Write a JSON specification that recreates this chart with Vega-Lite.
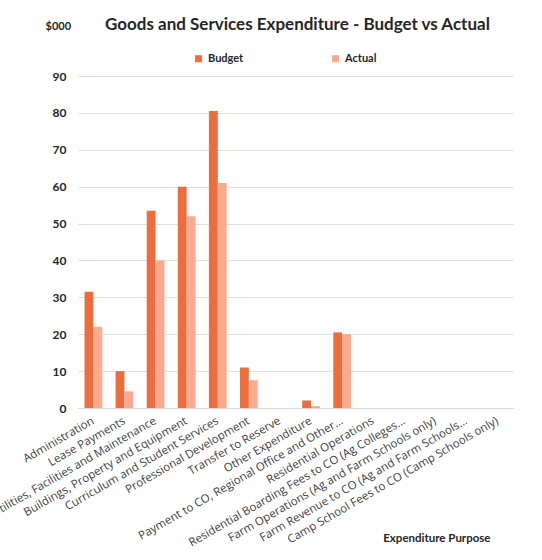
{
  "$schema": "https://vega.github.io/schema/vega-lite/v6.json",
  "autosize": {"type": "none"},
  "padding": {"left": 78, "top": 76, "right": 29, "bottom": 152},
  "width": 435,
  "height": 332,
  "background": "white",
  "title": {
    "text": "Goods and Services Expenditure - Budget vs Actual",
    "anchor": "start",
    "frame": "group",
    "dx": 27,
    "offset": 0,
    "dy": 14,
    "font": "Lato",
    "fontSize": 17,
    "fontWeight": "bold",
    "color": "#262626"
  },
  "data": {
    "values": [
      {"purpose": "Administration", "series": "Budget", "value": 31.5},
      {"purpose": "Administration", "series": "Actual", "value": 22},
      {"purpose": "Lease Payments", "series": "Budget", "value": 10},
      {"purpose": "Lease Payments", "series": "Actual", "value": 4.5},
      {"purpose": "Utilities, Facilities and Maintenance", "series": "Budget", "value": 53.5},
      {"purpose": "Utilities, Facilities and Maintenance", "series": "Actual", "value": 40},
      {"purpose": "Buildings, Property and Equipment", "series": "Budget", "value": 60},
      {"purpose": "Buildings, Property and Equipment", "series": "Actual", "value": 52},
      {"purpose": "Curriculum and Student Services", "series": "Budget", "value": 80.5},
      {"purpose": "Curriculum and Student Services", "series": "Actual", "value": 61},
      {"purpose": "Professional Development", "series": "Budget", "value": 11},
      {"purpose": "Professional Development", "series": "Actual", "value": 7.5},
      {"purpose": "Transfer to Reserve", "series": "Budget", "value": 0},
      {"purpose": "Transfer to Reserve", "series": "Actual", "value": 0},
      {"purpose": "Other Expenditure", "series": "Budget", "value": 2},
      {"purpose": "Other Expenditure", "series": "Actual", "value": 0.5},
      {"purpose": "Payment to CO, Regional Office and Other…", "series": "Budget", "value": 20.5},
      {"purpose": "Payment to CO, Regional Office and Other…", "series": "Actual", "value": 20},
      {"purpose": "Residential Operations", "series": "Budget", "value": 0},
      {"purpose": "Residential Operations", "series": "Actual", "value": 0},
      {"purpose": "Residential Boarding Fees to CO (Ag Colleges…", "series": "Budget", "value": 0},
      {"purpose": "Residential Boarding Fees to CO (Ag Colleges…", "series": "Actual", "value": 0},
      {"purpose": "Farm Operations (Ag and Farm Schools only)", "series": "Budget", "value": 0},
      {"purpose": "Farm Operations (Ag and Farm Schools only)", "series": "Actual", "value": 0},
      {"purpose": "Farm Revenue to CO (Ag and Farm Schools…", "series": "Budget", "value": 0},
      {"purpose": "Farm Revenue to CO (Ag and Farm Schools…", "series": "Actual", "value": 0},
      {"purpose": "Camp School Fees to CO (Camp Schools only)", "series": "Budget", "value": 0},
      {"purpose": "Camp School Fees to CO (Camp Schools only)", "series": "Actual", "value": 0}
    ]
  },
  "mark": {"type": "bar"},
  "encoding": {
    "x": {
      "field": "purpose",
      "type": "nominal",
      "sort": null,
      "scale": {"paddingInner": 0.43, "paddingOuter": 0.21},
      "axis": {
        "title": "Expenditure Purpose",
        "titleFont": "Lato",
        "titleFontSize": 11.5,
        "titleFontWeight": "bold",
        "titleColor": "#262626",
        "titleAnchor": "start",
        "titleAlign": "right",
        "titleX": 412,
        "titleY": 130,
        "titleBaseline": "middle",
        "labelAngle": -30,
        "labelAlign": "right",
        "labelBaseline": "middle",
        "labelPadding": 12,
        "labelFont": "Open Sans",
        "labelFontSize": 11.5,
        "labelColor": "#404040",
        "labelLimit": 400,
        "ticks": false,
        "domainColor": "#d9d9d9",
        "grid": false
      }
    },
    "xOffset": {"field": "series", "sort": ["Budget", "Actual"]},
    "y": {
      "field": "value",
      "type": "quantitative",
      "scale": {"domain": [0, 90]},
      "axis": {
        "title": "$000",
        "titleAngle": 0,
        "titleAlign": "left",
        "titleBaseline": "middle",
        "titleX": -33,
        "titleY": -50,
        "titleFont": "Lato",
        "titleFontSize": 11,
        "titleFontWeight": "bold",
        "titleColor": "#262626",
        "values": [0, 10, 20, 30, 40, 50, 60, 70, 80, 90],
        "labelFont": "Lato",
        "labelFontSize": 12,
        "labelFontWeight": "bold",
        "labelColor": "#262626",
        "labelPadding": 12,
        "ticks": false,
        "domain": false,
        "gridColor": "#e0e0e0"
      }
    },
    "color": {
      "field": "series",
      "type": "nominal",
      "sort": ["Budget", "Actual"],
      "scale": {"domain": ["Budget", "Actual"], "range": ["#EC6E3E", "#F9AA8F"]},
      "legend": {
        "title": null,
        "orient": "none",
        "direction": "horizontal",
        "legendX": 115,
        "legendY": -23,
        "symbolType": "square",
        "symbolSize": 50,
        "labelFont": "Lato",
        "labelFontSize": 11,
        "labelFontWeight": "bold",
        "labelColor": "#262626",
        "columnPadding": 86
      }
    }
  },
  "config": {"view": {"stroke": null}}
}
